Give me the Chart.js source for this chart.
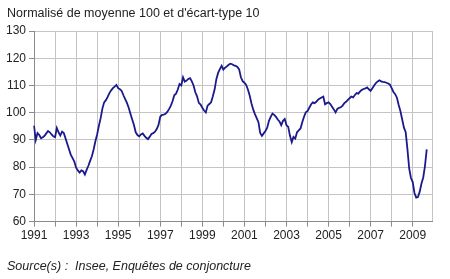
<!DOCTYPE html>
<html>
<head>
<meta charset="utf-8">
<script src="https://cdn.jsdelivr.net/npm/chart.js@4"></script>
<style>
  html, body { margin: 0; padding: 0; background: #fff; }
  #wrap { position: relative; width: 450px; height: 279px; }
</style>
</head>
<body>
<div id="wrap"><canvas id="c" width="450" height="279"></canvas></div>
<script>
// Monthly series, January 1991 to September 2009 (index 0 = Jan 1991)
const startYear = 1991;
const endYear = 2009;
const values = [
  95.2, 90.0, 92.5, 91.8, 90.6, 91.0, 91.5, 92.4, 93.3, 92.8, 92.0, 91.3,
  91.0, 94.4, 92.8, 91.6, 93.0, 92.5, 90.5, 88.5, 86.5, 84.5, 83.3, 82.0,
  79.8, 78.8, 78.0, 78.8, 78.5, 77.3, 79.0, 80.5, 82.3, 84.0, 86.5, 89.5,
  92.0, 95.2, 98.0, 101.5, 103.8, 104.6, 105.8, 107.2, 108.2, 109.0, 109.6, 110.2,
  109.0, 108.6, 108.0, 106.4, 105.0, 103.6, 101.8, 99.6, 97.5, 95.5, 92.8, 91.8,
  91.3, 92.0, 92.4, 91.5, 90.8, 90.3, 91.2, 92.2, 92.5, 93.0, 94.0, 95.5,
  98.5, 99.2, 99.3, 99.6, 100.3, 101.3, 102.5, 104.2, 106.4, 107.0, 108.5, 110.5,
  110.0, 113.0, 111.4, 111.8, 112.4, 112.7, 111.5, 110.0, 107.5, 106.0, 103.6, 103.0,
  101.8, 100.8, 100.1, 102.6, 103.2, 103.8, 106.0, 108.5, 112.3, 114.6, 116.0, 117.2,
  115.8, 116.5, 117.0, 117.6, 118.0, 117.8, 117.4, 117.2, 116.8, 115.9, 113.0, 111.6,
  111.0, 110.2, 108.5, 106.3, 103.5, 101.2, 99.5, 98.0, 96.5, 92.6, 91.5, 92.4,
  93.3, 94.5, 97.0, 98.5, 99.7, 99.2, 98.5, 97.5, 96.8, 95.4, 97.0, 97.7,
  95.4, 94.8, 91.5, 89.2, 91.1, 90.5, 92.8, 93.5, 94.2, 96.5, 98.5, 100.1,
  100.6, 101.8, 103.0, 103.8, 103.5, 104.0, 104.8, 105.2, 105.6, 105.9, 103.1, 103.5,
  103.8, 103.2, 102.2, 101.2, 100.1, 101.4, 101.8, 102.0, 102.6, 103.5, 104.0, 104.7,
  105.3, 105.9, 105.6, 106.5, 107.2, 107.0, 107.8, 108.4, 108.7, 108.9, 109.3, 108.6,
  108.0, 109.0, 110.0, 110.9, 111.5, 111.9, 111.5, 111.3, 111.2, 111.0, 110.7, 110.3,
  109.0, 107.6, 106.8, 105.5, 102.8, 100.5, 97.5, 94.5, 92.8, 86.5, 79.5, 76.0,
  74.5, 70.5, 68.8, 69.0, 71.0, 74.0, 76.2, 80.5, 86.5
];
const yTicks = [60, 70, 80, 90, 100, 110, 120, 130];
const xTickYears = [1991, 1993, 1995, 1997, 1999, 2001, 2003, 2005, 2007, 2009];

// Monthly categories through December of the last year
const categories = [];
for (let y = startYear; y <= endYear; y++) {
  for (let m = 1; m <= 12; m++) categories.push(y + '-' + String(m).padStart(2, '0'));
}
const series = categories.map((c, i) => (i < values.length ? values[i] : null));

const FONT = '"Liberation Sans", Arial, sans-serif';
const textPlugin = {
  id: 'texts',
  afterDraw(chart) {
    const ctx = chart.ctx;
    ctx.save();
    ctx.fillStyle = '#222';
    ctx.textBaseline = 'alphabetic';
    ctx.textAlign = 'left';
    ctx.font = '12.5px ' + FONT;
    ctx.fillText("Normalisé de moyenne 100 et d'écart-type 10", 7, 17);
    ctx.font = 'italic 12.5px ' + FONT;
    ctx.fillText('Source(s) :  Insee, Enquêtes de conjoncture', 7, 270);
    ctx.restore();
  }
};

const transparent = 'rgba(0,0,0,0)';

new Chart(document.getElementById('c'), {
  type: 'line',
  data: {
    labels: categories,
    datasets: [{
      data: series,
      borderColor: '#1a1a8c',
      borderWidth: 1.8,
      pointRadius: 0,
      tension: 0,
      fill: false,
      spanGaps: false
    }]
  },
  options: {
    responsive: false,
    animation: false,
    devicePixelRatio: 1,
    layout: { padding: { top: 31, left: 3, right: 18, bottom: 34 } },
    plugins: { legend: { display: false }, tooltip: { enabled: false }, title: { display: false } },
    scales: {
      x: {
        type: 'category',
        offset: false,
        grid: {
          display: true,
          drawTicks: true,
          tickLength: 5,
          color: (ctx) => {
            const i = ctx.index;
            if (i === undefined) return transparent;
            return (i % 12 === 0 || i === categories.length - 1) ? '#c4c4c4' : transparent;
          },
          tickColor: (ctx) => {
            const i = ctx.index;
            return (i % 12 === 0) ? '#8a8a8a' : transparent;
          }
        },
        border: { display: true, color: '#8a8a8a', width: 1 },
        ticks: {
          autoSkip: false,
          maxRotation: 0,
          minRotation: 0,
          padding: 2,
          color: '#222',
          font: { family: FONT, size: 12 },
          callback: function (value, index) {
            const lab = categories[index];
            const yr = parseInt(lab.slice(0, 4), 10);
            if (lab.slice(5) === '01' && xTickYears.includes(yr)) return String(yr);
            return '';
          }
        }
      },
      y: {
        min: 60,
        max: 130,
        afterBuildTicks: (axis) => { axis.ticks = yTicks.map(v => ({ value: v })); },
        grid: { color: '#c4c4c4', tickLength: 5, tickColor: '#8a8a8a' },
        border: { display: true, color: '#8a8a8a', width: 1 },
        ticks: {
          padding: 3,
          color: '#222',
          font: { family: FONT, size: 12 }
        }
      }
    }
  },
  plugins: [textPlugin]
});
</script>
</body>
</html>
